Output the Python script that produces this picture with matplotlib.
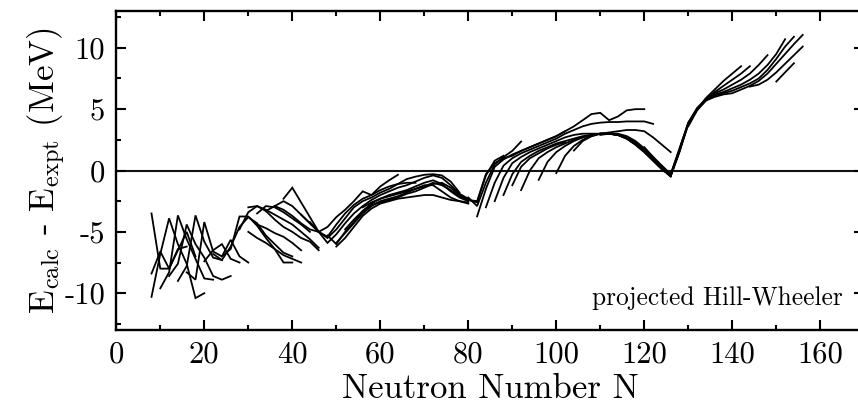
import matplotlib
matplotlib.use("Agg")
import matplotlib.pyplot as plt
from matplotlib.ticker import MultipleLocator

# ---------------- data: isotopic chains (first N, residuals at N, N+2, ...) ----
light_chains = [
    (8,  [-3.5, -8.0, -8.0, -6.4, -6.2]),
    (8,  [-8.4, -6.6, -8.0, -6.5, -5.0, -7.0]),
    (8,  [-10.3, -6.8, -3.9, -6.0, -7.6, -10.4, -10.0]),
    (10, [-9.6, -8.3, -3.66, -5.6, -7.2, -8.8, -8.9]),
    (12, [-8.6, -7.6, -4.4, -6.0, -7.1, -8.6, -8.9, -8.6]),
    (14, [-9.0, -7.8, -3.66, -5.8, -7.1, -7.3]),
    (16, [-8.3, -8.9, -4.2, -6.6, -7.0, -5.65, -7.0, -7.5]),
]

mid_chains = [
    (20, [-7.4, -6.5, -6.0, -7.2, -7.5]),
    (22, [-6.8, -7.3, -6.2, -4.6, -3.8, -4.3, -5.3, -6.0, -6.7, -7.0]),
    (24, [-7.0, -6.4, -3.75, -3.75, -4.5, -5.5, -6.4, -7.5, -7.5]),
    (28, [-4.8, -3.4, -2.9, -3.3, -4.0, -4.6, -5.0, -5.5, -5.8, -6.5]),
    (30, [-3.0, -2.9, -3.2, -3.6, -4.0, -4.4, -5.0, -5.6, -6.3]),
    (32, [-3.5, -2.9, -3.0, -3.4, -3.9, -4.4, -5.0]),
    (34, [-3.3, -2.9, -3.2, -3.7, -4.3, -4.8, -5.0]),
    (36, [-2.9, -2.5, -2.9, -3.6, -4.3, -5.0]),
    (38, [-2.3, -1.4, -2.6, -3.8, -5.0]),
    (30, [-5.0, -5.5, -5.9, -6.4, -6.9, -7.2, -7.5]),
    (32, [-4.4, -4.7, -5.1, -5.4, -5.9, -6.5]),
]

band_chains = [
    (42, [-3.6, -4.3, -5.0, -4.6, -3.8, -3.2, -2.5, -1.7, -2.0, -1.3, -0.8, -0.35]),
    (44, [-4.2, -5.0, -5.4, -4.4, -3.5, -2.8, -2.3, -2.0, -1.6, -1.3, -1.1, -1.0, -1.0]),
    (46, [-5.0, -5.5, -4.8, -3.9, -3.0, -2.5, -2.2, -1.8, -1.5, -1.1, -0.7, -0.5,
          -0.35, -0.3, -0.4, -0.9, -1.8]),
    (46, [-5.0, -5.9, -5.2, -4.3, -3.5, -2.9, -2.4, -2.0, -1.7, -1.4, -1.2, -0.9,
          -0.6, -0.4, -0.6, -1.2, -1.9, -2.3]),
    (48, [-5.3, -6.0, -5.0, -4.2, -3.3, -2.7, -2.3, -2.0, -1.8, -1.6, -1.3, -1.0,
          -0.8, -1.1, -1.7, -2.2, -2.5]),
    (50, [-5.9, -5.1, -4.3, -3.5, -2.9, -2.5, -2.3, -2.1, -1.8, -1.5, -1.2, -1.2,
          -1.7, -2.2, -2.5, -2.7]),
    (50, [-6.2, -5.5, -4.6, -3.7, -3.1, -2.7, -2.5, -2.3, -2.2, -2.1, -2.0, -2.0,
          -2.2, -2.4, -2.5, -2.6]),
    (52, [-4.8, -4.0, -3.3, -2.8, -2.6, -2.4, -2.2, -1.9, -1.7, -1.4, -1.1, -1.0,
          -1.4, -2.0, -2.4, -2.6, -0.4, 0.8, 1.2]),
    (56, [-3.0, -2.6, -2.3, -2.1, -1.9, -1.7, -1.5, -1.3, -1.0, -1.2, -1.6, -2.1,
          -2.4]),
]

heavy_chains = [
    (80, [-2.4, -2.5, -0.3, 0.6, 1.0, 1.2, 1.6, 1.9, 2.2, 2.5, 2.8, 3.2]),
    (80, [-2.2, -2.9, -1.0, 0.5, 1.1, 1.6, 2.36]),
    (82, [-3.74, -1.5, 0.3, 0.9, 1.3, 1.6, 1.9, 2.2, 2.5, 2.8, 3.2, 3.6, 4.1, 4.6,
          4.7, 4.1, 4.4, 4.9, 5.0, 5.0]),
    (84, [-3.0, -1.0, 0.4, 1.0, 1.4, 1.7, 2.0, 2.3, 2.6, 3.0, 3.3, 3.6, 3.8, 3.9,
          3.95, 3.95, 4.0, 4.0, 4.0, 3.8]),
    (86, [-2.5, -0.6, 0.6, 1.1, 1.5, 1.8, 2.1, 2.4, 2.7, 2.9, 3.0, 3.0, 3.0, 3.1,
          3.2, 3.3, 3.3, 3.2, 2.7, 2.1, 1.5]),
    (88, [-2.0, -0.3, 0.7, 1.2, 1.6, 1.9, 2.2, 2.4, 2.6, 2.8, 2.9, 3.0, 3.0, 2.9,
          2.6, 2.1, 1.5, 0.8, 0.1, -0.5]),
    (90, [-1.2, 0.3, 1.0, 1.4, 1.8, 2.1, 2.3]),
    (92, [-1.6, 0.0, 1.0, 1.5, 1.9, 2.2, 2.5, 2.7, 2.9, 3.0, 3.0, 2.9, 2.7, 2.3,
          1.7, 1.0, 0.3, -0.45, 1.6]),
    (96, [-0.76, 0.7, 1.5, 2.0, 2.4, 2.7, 2.9, 3.0, 3.0, 2.9, 2.7, 2.3, 1.7, 1.0,
          0.3, -0.45, 1.6, 3.8, 5.0, 5.9, 6.6, 7.3, 7.9, 8.5]),
    (100, [-0.21, 1.2, 2.0, 2.5, 2.8, 3.0, 3.0, 2.9, 2.6, 2.2, 1.6, 0.9, 0.2, -0.45,
           1.5, 3.8, 5.0, 5.8, 6.4, 6.9, 7.4, 7.9, 8.5]),
    (104, [1.63, 2.4, 2.8, 3.0, 3.0, 2.9, 2.6, 2.1, 1.5, 0.8, 0.1, -0.4, 1.7, 3.9,
           5.1, 5.8, 6.3, 6.6, 7.0, 7.4, 7.9, 8.6, 9.4]),
    (110, [2.9, 3.0, 3.0, 2.8, 2.4, 1.8, 1.1, 0.4, -0.3, 1.8, 3.9, 5.0, 5.7, 6.2,
           6.4, 6.7, 7.0, 7.4, 7.9, 8.6, 9.5, 10.7]),
    (120, [1.9, 1.1, 0.3, -0.35, 1.7, 3.8, 5.0, 5.8, 6.1, 6.3, 6.5, 6.8, 7.1, 7.5,
           8.2, 9.1, 10.1, 10.9]),
    (130, [3.6, 4.9, 5.7, 6.0, 6.2, 6.3, 6.6, 6.9, 7.3, 7.9, 8.7, 9.5, 10.3,
           11.05]),
    (144, [6.84, 7.0, 7.4, 8.0, 8.7, 9.4, 10.1]),
    (150, [7.25, 8.0, 8.74]),
]

x_ticks = [0, 20, 40, 60, 80, 100, 120, 140, 160]
y_ticks = [-10, -5, 0, 5, 10]
label_text = "projected Hill-Wheeler"

# ---------------- style ----------------
plt.rcParams["font.family"] = ["cmr10", "DejaVu Serif"]
plt.rcParams["mathtext.fontset"] = "cm"
plt.rcParams["axes.unicode_minus"] = False
plt.rcParams["axes.formatter.use_mathtext"] = False

W, H = 858, 408
fig = plt.figure(figsize=(W / 100, H / 100), dpi=100)
left_px, right_px, top_px, bot_px = 116.3, 864.3, 11.0, 330.0
ax = fig.add_axes([left_px / W, 1 - bot_px / H, (right_px - left_px) / W,
                   (bot_px - top_px) / H])

for group in (light_chains, mid_chains, band_chains, heavy_chains):
    for n0, vals in group:
        ns = [n0 + 2 * i for i in range(len(vals))]
        ax.plot(ns, vals, color="black", lw=1.3, solid_joinstyle="miter")

ax.axhline(0, color="#111111", lw=1.5, zorder=1)

ax.set_xlim(0, 170)
ax.set_ylim(-13, 13)
ax.set_xticks(x_ticks)
ax.set_yticks(y_ticks)
ax.xaxis.set_minor_locator(MultipleLocator(10))
ax.yaxis.set_minor_locator(MultipleLocator(2.5))
ax.tick_params(which="both", direction="in", top=True, right=True,
               labelsize=22, width=1.5, colors="black")
ax.tick_params(which="major", length=7.5, pad=8)
ax.tick_params(which="minor", length=3.8)
for s in ax.spines.values():
    s.set_linewidth(1.7)

ax.set_xlabel("Neutron Number N", fontsize=25)
ax.xaxis.set_label_coords(0.5, -0.135)
ax.set_ylabel(r"E$_{\rm calc}$ - E$_{\rm expt}$ (MeV)", fontsize=25)
ax.yaxis.set_label_coords(-0.065, 0.5)

ax.text(165, -10.4, label_text, fontsize=18.3, ha="right", va="center")

fig.savefig("out.png", dpi=100)
